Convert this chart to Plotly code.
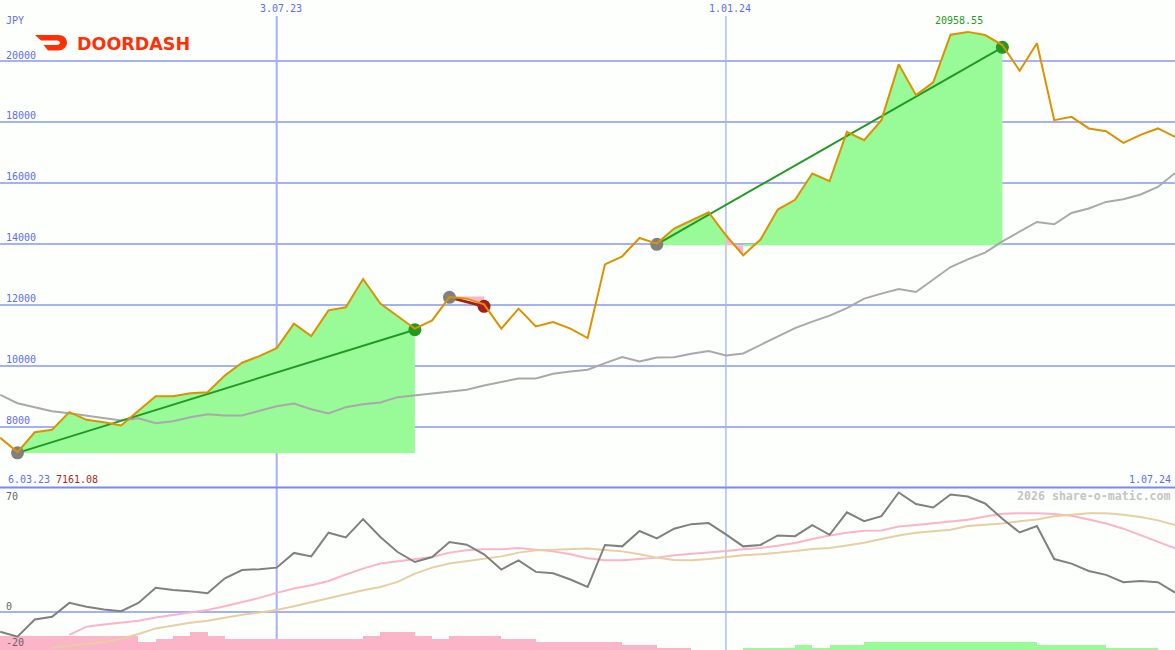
import plotly.graph_objects as go

# ---- data (one entry per trading week) ----
price = [7631, 7161, 7815, 7894, 8473, 8223, 8144, 8035, 8518, 8998,
         8998, 9097, 9130, 9679, 10096, 10313, 10576, 11378, 10971, 11815,
         11914, 12844, 12036, 11628, 11214, 11487, 12253, 12200, 12013, 11214,
         11871, 11289, 11431, 11214, 10905, 13327, 13590, 14192, 14008, 14501,
         14774, 15037, 14281, 13623, 14139, 15125, 15447, 16309, 16056, 17676,
         17403, 18061, 19892, 18882, 19300, 20864, 20958, 20855, 20526, 19681,
         20582, 18061, 18169, 17788, 17699, 17315, 17577, 17788, 17512]
long_avg = [9043, 8768, 8637, 8505, 8440, 8354, 8288, 8200, 8275, 8111,
            8177, 8308, 8407, 8364, 8364, 8528, 8670, 8758, 8571, 8430,
            8637, 8735, 8791, 8966, 9021, 9097, 9153, 9209, 9350, 9459,
            9580, 9580, 9735, 9810, 9866, 10083, 10280, 10139, 10270, 10280,
            10392, 10478, 10336, 10402, 10688, 10961, 11234, 11444, 11641, 11891,
            12200, 12364, 12515, 12417, 12834, 13239, 13492, 13712, 14083, 14412,
            14718, 14642, 15014, 15158, 15375, 15464, 15618, 15868, 16328]
osc = [-12.5, -15.7, -4.7, -3.0, 5.9, 3.4, 1.7, 0.6, 5.9, 15.5,
       14.2, 13.4, 12.1, 21.6, 26.9, 27.4, 28.4, 37.8, 35.6, 50.7,
       47.7, 59.4, 48.0, 38.4, 32.0, 35.2, 44.8, 43.1, 36.9, 27.2,
       33.1, 25.7, 24.8, 20.8, 16.1, 42.9, 42.0, 51.8, 47.1, 53.3,
       56.2, 56.9, 49.7, 42.0, 42.9, 49.0, 48.5, 55.6, 49.4, 63.7,
       58.1, 61.3, 76.4, 69.0, 66.8, 75.1, 73.8, 69.4, 59.6, 50.9,
       55.0, 33.9, 31.0, 26.3, 23.8, 19.1, 19.9, 19.1, 12.5]
osc_pink = [None, None, None, None, -14.6, -9.3, -7.9, -6.8, -5.5, -3.4,
            -1.9, 0.0, 1.3, 3.8, 6.4, 9.1, 12.3, 15.1, 17.2, 19.9,
            24.0, 27.8, 31.0, 32.5, 33.7, 35.2, 38.0, 39.5, 40.1, 40.1,
            41.0, 40.1, 38.8, 36.9, 34.4, 33.1, 33.1, 33.9, 34.8, 36.3,
            37.1, 38.2, 39.0, 40.1, 41.0, 42.4, 44.1, 46.7, 49.0, 50.7,
            52.0, 52.2, 54.7, 55.6, 56.6, 57.9, 59.0, 61.1, 62.8, 63.2,
            63.2, 62.6, 61.5, 59.2, 56.6, 53.3, 49.0, 44.8, 40.7]
osc_wheat = [None, None, None, -22.7, -21.6, -20.2, -19.1, -17.0, -14.0, -10.4,
             -8.5, -6.8, -5.5, -3.4, -1.7, -0.2, 1.3, 3.8, 6.4, 8.9,
             11.2, 14.0, 16.1, 19.3, 24.6, 28.4, 31.0, 32.5, 34.2, 35.6,
             38.0, 39.5, 39.9, 40.1, 40.7, 39.7, 38.8, 36.9, 34.8, 33.3,
             33.1, 33.9, 35.0, 36.3, 36.9, 37.8, 39.0, 40.3, 41.0, 42.6,
             44.3, 46.7, 49.0, 50.7, 51.8, 52.6, 55.0, 55.8, 56.6, 58.1,
             59.2, 61.3, 62.4, 63.2, 63.2, 62.2, 60.7, 58.6, 55.6]
hist_neg = [9.55, 9.55, 9.55, 9.55, 9.55, 9.55, 9.55, 9.55, 5.73, 7.64,
            9.55, 12.1, 9.55, 7.64, 7.64, 7.64, 7.64, 7.64, 7.64, 7.64,
            7.64, 9.55, 12.1, 12.1, 9.55, 7.64, 9.55, 9.55, 9.55, 7.64,
            7.64, 5.73, 5.73, 5.73, 5.73, 5.73, 3.82, 3.82, 1.91, 1.91]
hist_pos_start = [43]
hist_pos = [1.91, 1.91, 1.91, 3.82, 1.91, 3.82, 3.82, 5.73, 5.73, 5.73,
            5.73, 5.73, 5.73, 5.73, 5.73, 5.73, 5.73, 3.82, 3.82, 3.82,
            3.82, 1.91, 1.91, 1.91]

price_ticks = [8000, 10000, 12000, 14000, 16000, 18000, 20000]
date_ticks = [16, 42]
date_labels = ["3.07.23", "1.01.24"]
date_widths = [2, 1.3]

trade_start_i = [1, 26, 38]
trade_end_i = [24, 28, 58]
trade_start_v = [7138, 12243, 13985]
trade_end_v = [11181, 11947, 20450]
trade_base = [7130, 12270, 13950]

# ---- styling ----
W, H = 1175, 650
BG = "#fdfffc"
GRID = "#a5b2f2"
DIVIDER = "#7a8af0"
BLUE = "#5f6cf8"
ORANGE = "#dc9200"
AVG = "#a9a9a9"
PALEGREEN = "#98fb98"
PINK = "#fcb4c8"
TGREEN = "#229922"
TRED = "#a81c1c"
MONO = "DejaVu Sans Mono"
DIV_PX = 487.5


def px(x):
    return x / W


def py(y):
    return 1 - y / H


idx = list(range(len(price)))
fig = go.Figure()

# histogram
OSC_FLOOR = -24.2
fig.add_trace(go.Bar(x=[i + 0.5 for i in range(len(hist_neg))], y=hist_neg, base=OSC_FLOOR, width=1,
                     marker=dict(color=PINK, line_width=0), yaxis="y2"))
fig.add_trace(go.Bar(x=[hist_pos_start[0] + i + 0.5 for i in range(len(hist_pos))], y=hist_pos, base=OSC_FLOOR, width=1,
                     marker=dict(color=PALEGREEN, line_width=0), yaxis="y2"))


def poly(xs, ys, color):
    fig.add_trace(go.Scatter(x=xs, y=ys, mode="lines", fill="toself", fillcolor=color,
                             line=dict(width=0, color=color), hoverinfo="skip"))


# trade 1 fill
a, b = trade_start_i[0], trade_end_i[0]
base = trade_base[0]
poly(idx[a:b + 1] + [b, a], price[a:b + 1] + [base, base], PALEGREEN)

# trade 2 (loss) fill
a, b = trade_start_i[1], trade_end_i[1]
base = trade_base[1]
poly(idx[a:b + 1] + [b, a], price[a:b + 1] + [base, base], PINK)

# trade 3 fill, with the short dip under the entry level
a, b = trade_start_i[2], trade_end_i[2]
base = trade_base[2]
poly(idx[a:43] + [42, a], price[a:43] + [base, base], PALEGREEN)
poly([42, 43, 43, 42], [price[42], price[43], base, base], PINK)
cross = 43 + (base - price[43]) / (price[44] - price[43])
poly([cross] + idx[44:b + 1] + [b, cross], [base] + price[44:b + 1] + [base, base], PALEGREEN)
fig.add_trace(go.Scatter(x=[43, cross], y=[base, base], mode="lines", line=dict(color=PALEGREEN, width=2)))

# long average
fig.add_trace(go.Scatter(x=idx, y=long_avg, mode="lines", line=dict(color=AVG, width=2)))

# trade lines and markers
for s, e, sv, ev, col, w in zip(trade_start_i, trade_end_i, trade_start_v, trade_end_v,
                                [TGREEN, TRED, TGREEN], [2, 3, 2]):
    fig.add_trace(go.Scatter(x=[s, e], y=[sv, ev], mode="lines", line=dict(color=col, width=w)))
    fig.add_trace(go.Scatter(x=[s], y=[sv], mode="markers", marker=dict(color="#808080", size=13, line_width=0)))
    fig.add_trace(go.Scatter(x=[e], y=[ev], mode="markers", marker=dict(color=col, size=13, line_width=0)))

# price
fig.add_trace(go.Scatter(x=idx, y=price, mode="lines", line=dict(color=ORANGE, width=2)))

# oscillator panel
fig.add_trace(go.Scatter(x=idx, y=osc_pink, mode="lines", line=dict(color=PINK, width=2), yaxis="y2"))
fig.add_trace(go.Scatter(x=idx, y=osc_wheat, mode="lines", line=dict(color="#e6cfa3", width=2), yaxis="y2"))
fig.add_trace(go.Scatter(x=idx, y=osc, mode="lines", line=dict(color="#808080", width=2), yaxis="y2"))

annotations = []


def label(text, x, y, color, anchor="left", size=10, bold=False, family=MONO):
    annotations.append(dict(text=f"<b>{text}</b>" if bold else text, x=px(x), y=py(y), xref="paper", yref="paper",
                            xanchor=anchor, yanchor="middle", showarrow=False,
                            font=dict(family=family, size=size, color=color), borderpad=0))


for v in price_ticks:
    label(str(v), 5, 61 + (20000 - v) * 0.03042 - 6, BLUE)
label("JPY", 5, 20, BLUE)
for t, lab, x in zip(date_ticks, date_labels, [259, 708]):
    label(lab, x, 8, BLUE)
label("6.03.23", 7, 479, BLUE)
label("7161.08", 55, 479, "#a52a2a")
label("1.07.24", 1172, 479, BLUE, anchor="right")
label("20958.55", 934, 21, TGREEN)
label("70", 5, 496, "#666666")
label("0", 5, 606, "#666666")
label("-20", 5, 642, "#666666")
label("2026 share-o-matic.com", 1172, 496, "#c4c4c4", anchor="right", size=11.6, bold=True)
label("DOORDASH", 76, 44, "#ff3008", size=17.5, bold=True, family="DejaVu Sans")

shapes = []
for t, w in zip(date_ticks, date_widths):
    shapes.append(dict(type="line", xref="x", yref="paper", x0=t, x1=t, y0=0, y1=py(16),
                       line=dict(color=GRID, width=w), layer="below"))
shapes.append(dict(type="line", xref="paper", yref="paper", x0=0, x1=1, y0=py(DIV_PX), y1=py(DIV_PX),
                   line=dict(color=DIVIDER, width=2), layer="below"))

# DoorDash mark
logo = [("M", 35, 35), ("L", 58, 35), ("C", 63.5, 35, 67, 38.5, 67, 42.5), ("C", 67, 47, 63, 50.5, 58, 50.5),
        ("L", 48, 50.5), ("L", 43.5, 45), ("L", 57, 45), ("C", 58.7, 45, 60, 44, 60, 42.8),
        ("C", 60, 41.6, 58.7, 40.5, 57, 40.5), ("L", 41, 40.5)]
path = ""
for seg in logo:
    pts = seg[1:]
    coords = " ".join(f"{px(pts[i]):.5f},{py(pts[i + 1]):.5f}" for i in range(0, len(pts), 2))
    path += f"{seg[0]}{coords} "
shapes.append(dict(type="path", xref="paper", yref="paper", path=path + "Z",
                   fillcolor="#ff3008", line=dict(width=0), layer="above"))

split = py(DIV_PX)
fig.update_layout(
    width=W, height=H, margin=dict(l=0, r=0, t=0, b=0), paper_bgcolor=BG, plot_bgcolor=BG,
    showlegend=False, barmode="overlay", bargap=0, hovermode=False,
    annotations=annotations, shapes=shapes,
    xaxis=dict(range=[-0.012, 67.99], showgrid=False, zeroline=False, showticklabels=False, ticks="", fixedrange=True),
    yaxis=dict(domain=[split, 1], range=[6000, 22005], tickvals=price_ticks, showticklabels=False, ticks="",
               showgrid=True, gridcolor=GRID, gridwidth=2, zeroline=False, fixedrange=True),
    yaxis2=dict(domain=[0, split], range=[OSC_FLOOR, 79.6], tickvals=[0], showticklabels=False, ticks="",
                showgrid=True, gridcolor=GRID, gridwidth=2, zeroline=False, fixedrange=True),
)
fig.write_html("out.html", config=dict(displayModeBar=False),
               post_script="document.body.style.margin='0';document.body.style.overflow='hidden';")
